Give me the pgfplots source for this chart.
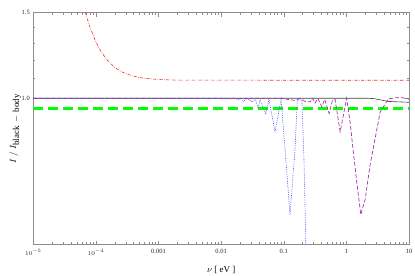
\documentclass[border=0pt]{standalone}
\usepackage{fontspec}
\setmainfont{Liberation Serif}
\usepackage{pgfplots}
\pgfplotsset{compat=1.18}
\begin{document}
\begin{tikzpicture}
\useasboundingbox (-33.3bp,-31.5bp) rectangle (381.7bp,244.5bp);
\begin{axis}[
  at={(0,0)}, anchor=south west, scale only axis,
  width=375.7bp, height=231.8bp,
  xmode=log, ymode=log,
  xmin=1e-5, xmax=10, ymin=0.5, ymax=1.5,
  axis line style={black!45, line width=0.5bp},
  tick style={black!45, line width=0.4bp},
  tick align=inside,
  major tick length=4bp, minor tick length=2.2bp,
  xtick={1e-5,1e-4,1e-3,1e-2,1e-1,1,10},
  xticklabels={$10^{-5}$,$10^{-4}$,0.001,0.01,0.1,1,10},
  minor xtick={2e-5,3e-5,4e-5,5e-5,6e-5,7e-5,8e-5,9e-5,
               2e-4,3e-4,4e-4,5e-4,6e-4,7e-4,8e-4,9e-4,
               2e-3,3e-3,4e-3,5e-3,6e-3,7e-3,8e-3,9e-3,
               2e-2,3e-2,4e-2,5e-2,6e-2,7e-2,8e-2,9e-2,
               2e-1,3e-1,4e-1,5e-1,6e-1,7e-1,8e-1,9e-1,
               2,3,4,5,6,7,8,9},
  ytick={1,1.5}, yticklabels={1.0,1.5},
  minor ytick={1.1,1.2,1.3,1.4},
  ticklabel style={font=\fontsize{6.5}{7}\selectfont, text=black!85},
  xticklabel style={yshift=-1.5bp},
  xlabel={$\nu$ [ eV ]}, ylabel={$I\ /\ I_{\textstyle\mathrm{black\,-\,body}}$},
  label style={font=\fontsize{9}{10}\selectfont},
  x label style={at={(axis description cs:0.5,-0.11)}, anchor=center},
  y label style={at={(axis description cs:-0.048,0.5)}, anchor=center},
]
% green thick dashed
\addplot[draw={rgb,255:red,0;green,255;blue,0}, line width=3.2bp, dash pattern=on 10bp off 5bp]
  coordinates {(1e-5,0.951) (10,0.951)};
% red dash-dot
\addplot[draw={rgb,255:red,240;green,40;blue,40}, line width=0.6bp, dash pattern=on 3bp off 1.4bp on 0.7bp off 1.4bp]
  coordinates {(6.0e-5,1.594) (6.8e-5,1.500) (8e-5,1.403) (1e-4,1.306) (1.2e-4,1.249)
   (1.5e-4,1.200) (2e-4,1.157) (2.5e-4,1.136) (3e-4,1.124) (4e-4,1.110) (5e-4,1.103)
   (7e-4,1.097) (1e-3,1.093) (2e-3,1.0895) (10,1.089)};
% black solid
\addplot[color=black!75, line width=0.6bp]
  coordinates {(1e-5,1.0) (2.2,1.0) (2.8,0.998) (4.7,0.985) (10,0.981)};
% blue dotted
\addplot[draw={rgb,255:red,60;green,60;blue,255}, line width=0.6bp, dash pattern=on 0.7bp off 1.1bp]
  coordinates {(1e-5,1.0) (0.01,1.0) (0.0139,0.996) (0.016,1.0) (0.019,0.993) (0.021,1.0)
   (0.0224,0.984) (0.026,1.0) (0.0312,0.981) (0.035,0.998) (0.039,0.954) (0.042,0.995)
   (0.044,0.975) (0.0515,0.930) (0.058,0.995) (0.0726,0.853) (0.0906,0.995)
   (0.105,0.783) (0.126,0.576) (0.151,0.783) (0.165,0.995) (0.195,0.99)
   (0.21,0.75) (0.222,0.55) (0.232,0.40)};
% purple dashed
\addplot[draw={rgb,255:red,165;green,50;blue,175}, line width=0.7bp, dash pattern=on 4bp off 2bp]
  coordinates {(1e-5,1.0) (0.1,1.0) (0.113,0.995) (0.15,0.99) (0.18,1.0) (0.22,0.985)
   (0.263,0.983) (0.29,1.0) (0.316,0.977) (0.35,1.0) (0.405,0.96) (0.45,0.995)
   (0.53,0.93) (0.6,0.99) (0.66,0.995) (0.795,0.853) (1.01,1.0) (1.15,0.89)
   (1.28,0.783) (1.47,0.67) (1.7,0.576) (2.0,0.62) (2.39,0.729) (3.0,0.85)
   (3.46,0.937) (4.7,0.997) (6,1.002) (8,1.002) (10,0.996)};
\end{axis}
\end{tikzpicture}
\end{document}
